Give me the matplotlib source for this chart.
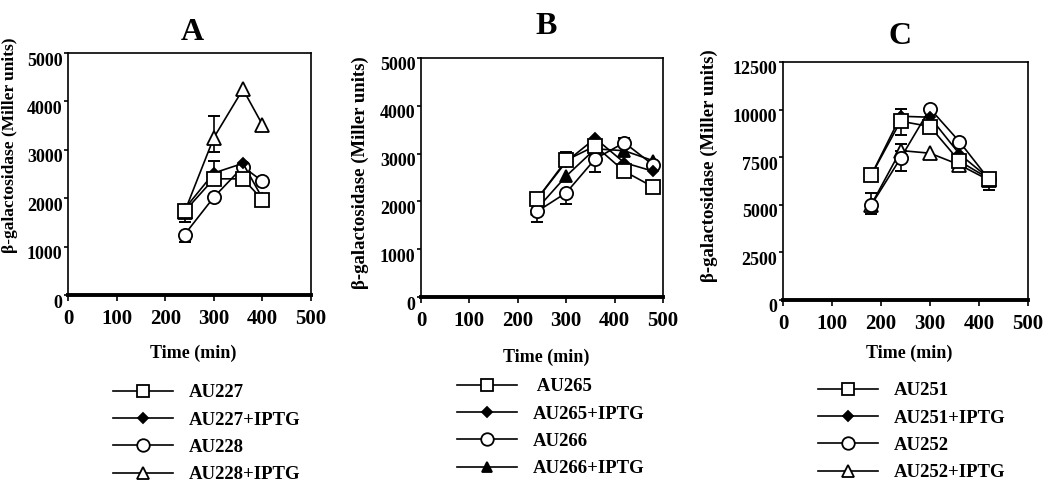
import matplotlib
matplotlib.use("Agg")
import matplotlib.pyplot as plt
import matplotlib.transforms as mtransforms
import numpy as np

plt.rcParams['font.family'] = ['Liberation Serif', 'DejaVu Serif']
plt.rcParams['font.weight'] = 'bold'

# ---- data ----
time_a = [240, 300, 360, 400]
au227 = [1730, 2400, 2400, 1970]
au227_iptg = [1780, 2520, 2720, 2000]
au228 = [1250, 2020, 2650, 2350]
au228_iptg = [1720, 3250, 4250, 3520]
err_a = {  # (lower, upper) per point
    'AU227': ([220, 0, 0, 0], [0, 0, 0, 0]),
    'AU227+IPTG': ([0, 0, 0, 0], [0, 250, 0, 0]),
    'AU228': ([150, 0, 0, 0], [0, 0, 0, 0]),
    'AU228+IPTG': ([0, 290, 0, 0], [0, 450, 0, 0]),
}

time_b = [240, 300, 360, 420, 480]
au265 = [2050, 2860, 3160, 2630, 2300]
au265_iptg = [2050, 2830, 3320, 2810, 2630]
au266 = [1790, 2180, 2890, 3230, 2760]
au266_iptg = [1850, 2530, 3100, 3060, 2850]
err_b = {
    'AU265': ([0, 0, 0, 0, 0], [0, 170, 0, 0, 0]),
    'AU265+IPTG': ([0, 0, 0, 0, 0], [0, 0, 0, 0, 0]),
    'AU266': ([220, 230, 280, 0, 0], [0, 0, 0, 100, 0]),
    'AU266+IPTG': ([0, 0, 0, 0, 0], [0, 0, 0, 0, 0]),
}

time_c = [180, 240, 300, 360, 420]
au251 = [6550, 9390, 9110, 7290, 6380]
au251_iptg = [6550, 9650, 9600, 7670, 6400]
au252 = [4980, 7450, 10050, 8320, 6350]
au252_iptg = [5000, 7850, 7710, 7100, 6300]
err_c = {
    'AU251': ([0, 700, 0, 0, 600], [0, 0, 0, 0, 0]),
    'AU251+IPTG': ([0, 0, 0, 0, 0], [0, 400, 0, 0, 0]),
    'AU252': ([470, 650, 0, 0, 0], [630, 0, 0, 0, 0]),
    'AU252+IPTG': ([0, 0, 0, 0, 0], [0, 350, 0, 0, 0]),
}

# marker styles: (marker, facecolor, size)
styles_a = [('s', 'white', 9.5), ('D', 'black', 5.5), ('o', 'white', 9.5), ('^', 'white', 9.5)]
styles_b = [('s', 'white', 9.5), ('D', 'black', 5.5), ('o', 'white', 9.5), ('^', 'black', 8)]
styles_c = [('s', 'white', 9.5), ('D', 'black', 5.5), ('o', 'white', 9.5), ('^', 'white', 9.5)]

panels = [
    dict(title='A', t=time_a, names=['AU227', 'AU227+IPTG', 'AU228', 'AU228+IPTG'],
         vals=[au227, au227_iptg, au228, au228_iptg], err=err_a, styles=styles_a,
         ylim=(0, 5000), yticks=[0, 1000, 2000, 3000, 4000, 5000],
         rect=[68/1050, 1-295/495, 243/1050, 242/495], title_xy=(192, 33),
         ylab=(-0.205, 0.62), ylab_fs=12.5, xlab_y=353, leg_xy=(113, 384)),
    dict(title='B', t=time_b, names=[' AU265', 'AU265+IPTG', 'AU266', 'AU266+IPTG'],
         vals=[au265, au265_iptg, au266, au266_iptg], err=err_b, styles=styles_b,
         ylim=(0, 5000), yticks=[0, 1000, 2000, 3000, 4000, 5000],
         rect=[421/1050, 1-297/495, 242/1050, 239/495], title_xy=(546, 27),
         ylab=(-0.213, 0.52), ylab_fs=13.5, xlab_y=357, leg_xy=(457, 378)),
    dict(title='C', t=time_c, names=['AU251', 'AU251+IPTG', 'AU252', 'AU252+IPTG'],
         vals=[au251, au251_iptg, au252, au252_iptg], err=err_c, styles=styles_c,
         ylim=(0, 12500), yticks=[0, 2500, 5000, 7500, 10000, 12500],
         rect=[783/1050, 1-300/495, 245/1050, 238/495], title_xy=(900, 37),
         ylab=(-0.266, 0.563), ylab_fs=13.5, xlab_y=353, leg_xy=(818, 382)),
]

fig = plt.figure(figsize=(10.5, 4.95), dpi=100)
W, H = 1050, 495
zorders = [6, 5, 4, 3]

for p in panels:
    ax = fig.add_axes(p['rect'])
    handles = []
    for name, y, st, z in zip(p['names'], p['vals'], p['styles'], zorders):
        m, fc, ms = st
        line, = ax.plot(p['t'], y, color='black', lw=1.2, marker=m, markerfacecolor=fc,
                        markeredgecolor='black', markeredgewidth=1.3, markersize=ms,
                        label=name, zorder=z, clip_on=False)
        handles.append(line)
        lo, up = p['err'][name.strip()]
        lo = np.array(lo)
        up = np.array(up)
        t = np.array(p['t'])
        yy = np.array(y)
        mask = (lo > 0) | (up > 0)
        if mask.any():
            ax.errorbar(t[mask], yy[mask], yerr=[lo[mask], up[mask]], fmt='none',
                        ecolor='black', elinewidth=1.2, capsize=4, capthick=1.4, zorder=z - 0.5)

    ax.set_xlim(0, 500)
    ax.set_ylim(*p['ylim'])
    ax.set_xticks([0, 100, 200, 300, 400, 500])
    ax.set_yticks(p['yticks'])
    ax.tick_params(axis='x', direction='out', length=4, width=1.2, pad=6, labelsize=15)
    ax.tick_params(axis='y', direction='out', length=3, width=1.2, pad=1, labelsize=13)
    offset = mtransforms.ScaledTranslation(0, -0.06, fig.dpi_scale_trans)
    for lab in ax.get_yticklabels():
        lab.set_transform(lab.get_transform() + offset)
    for lab in ax.get_xticklabels() + ax.get_yticklabels():
        lab.set_fontweight('bold')
    for s in ['top', 'right', 'left']:
        ax.spines[s].set_linewidth(1.2)
    ax.spines['bottom'].set_linewidth(2.8)

    ax.set_ylabel('β-galactosidase (Miller units)', fontsize=p['ylab_fs'], fontweight='bold')
    ax.yaxis.set_label_coords(*p['ylab'])

    fig.text(p['title_xy'][0]/W, 1 - p['title_xy'][1]/H, p['title'], fontsize=23,
             fontweight='bold', ha='center', va='center')
    cx = (p['rect'][0] + p['rect'][2]/2)
    fig.text(cx + 4/W, 1 - p['xlab_y']/H, 'Time (min)', fontsize=13, fontweight='bold',
             ha='center', va='center')

    fig.legend(handles=handles, loc='upper left',
               bbox_to_anchor=(p['leg_xy'][0]/W, 1 - p['leg_xy'][1]/H),
               frameon=False, borderpad=0, borderaxespad=0, handlelength=3.2,
               handletextpad=0.85, labelspacing=0.55, markerscale=0.95,
               prop={'size': 13.5, 'weight': 'bold'})

fig.savefig('out.png', dpi=100)
